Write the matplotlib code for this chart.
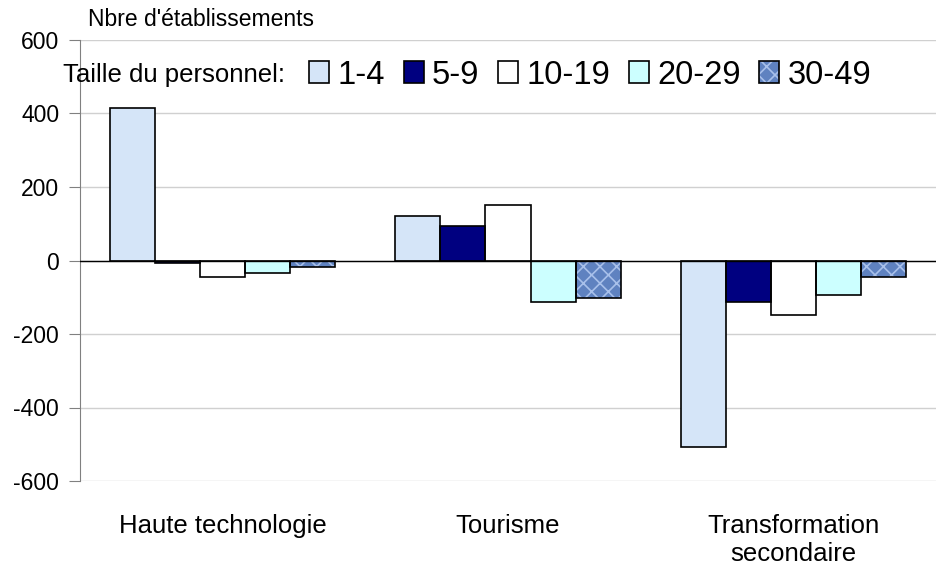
import matplotlib
matplotlib.use("Agg")
import matplotlib.pyplot as plt
import numpy as np
from matplotlib.patches import Patch
from matplotlib.legend_handler import HandlerBase
from matplotlib.patches import Rectangle

plt.rcParams['font.family'] = ['Liberation Sans', 'DejaVu Sans']
plt.rcParams['hatch.linewidth'] = 1.2

categories = ["Haute technologie", "Tourisme", "Transformation\nsecondaire"]
series_names = ["1-4", "5-9", "10-19", "20-29", "30-49"]
values = {
    "1-4":   [415, 120, -508],
    "5-9":   [-8, 93, -114],
    "10-19": [-44, 152, -147],
    "20-29": [-33, -114, -93],
    "30-49": [-19, -103, -44],
}
colors = ["#d5e5f8", "#000080", "#ffffff", "#ccffff", "#5f82c0"]
hatches = [None, None, None, None, "xx"]
hatch_colors = [None, None, None, None, "#a8c0ea"]
yticks = [-600, -400, -200, 0, 200, 400, 600]

fig = plt.figure(figsize=(9.36, 5.67), dpi=100)
ax = fig.add_axes([80/936, 1-481/567, 1-80/936, (481-40)/567])

x = np.arange(len(categories))
w = 45/285
for i, name in enumerate(series_names):
    ax.bar(x + (i-2)*w, values[name], width=w, color=colors[i],
           edgecolor="none", linewidth=0, zorder=3)
    if hatches[i]:
        ax.bar(x + (i-2)*w, values[name], width=w, facecolor="none",
               edgecolor=hatch_colors[i], hatch=hatches[i], linewidth=0, zorder=3.5)
    ax.bar(x + (i-2)*w, values[name], width=w, facecolor="none",
           edgecolor="black", linewidth=1.2, zorder=4)

ax.set_xlim(-0.5, 2.5)
ax.set_ylim(-600, 600)
ax.set_yticks(yticks)
ax.set_yticklabels([str(v) for v in yticks], fontsize=16.5)
ax.yaxis.grid(True, color="#d0d0d0", linewidth=1, zorder=0)
ax.axhline(0, color="black", linewidth=1, zorder=4.5)
for s in ["top", "right", "bottom"]:
    ax.spines[s].set_visible(False)
ax.spines["left"].set_color("#808080")
ax.tick_params(axis="y", direction="out", length=8, color="#808080", pad=7)
ax.set_xticks(x)
ax.set_xticklabels(categories, fontsize=18.5, linespacing=1.2)
ax.tick_params(axis="x", length=0, pad=24)

fig.text(88/936, 1-20/567, "Nbre d'établissements", fontsize=16.5, va="center", ha="left")
fig.text(63/936, 1-75/567, "Taille du personnel:", fontsize=18.5, va="center", ha="left")


class HatchHandler(HandlerBase):
    def __init__(self, face, hcolor, hatch):
        super().__init__()
        self.face, self.hcolor, self.hatch = face, hcolor, hatch

    def create_artists(self, legend, orig_handle, xdescent, ydescent, width, height, fontsize, trans):
        r1 = Rectangle((-xdescent, -ydescent), width, height, facecolor=self.face,
                       edgecolor="none", transform=trans)
        r2 = Rectangle((-xdescent, -ydescent), width, height, facecolor="none",
                       edgecolor=self.hcolor, hatch=self.hatch, linewidth=0, transform=trans)
        r3 = Rectangle((-xdescent, -ydescent), width, height, facecolor="none",
                       edgecolor="black", linewidth=1.2, transform=trans)
        return [r1, r2, r3]


handles = [Patch(facecolor=colors[i], edgecolor="black", linewidth=1.2) for i in range(5)]
handler_map = {handles[4]: HatchHandler(colors[4], hatch_colors[4], hatches[4])}
fig.legend(handles, series_names, loc="center left", bbox_to_anchor=(309/936, 1-75/567),
           ncol=5, frameon=False, fontsize=23.5, handlelength=0.62, handleheight=0.62,
           handletextpad=0.25, columnspacing=0.57, borderpad=0, borderaxespad=0,
           handler_map=handler_map)

fig.savefig("out.png", dpi=100)
